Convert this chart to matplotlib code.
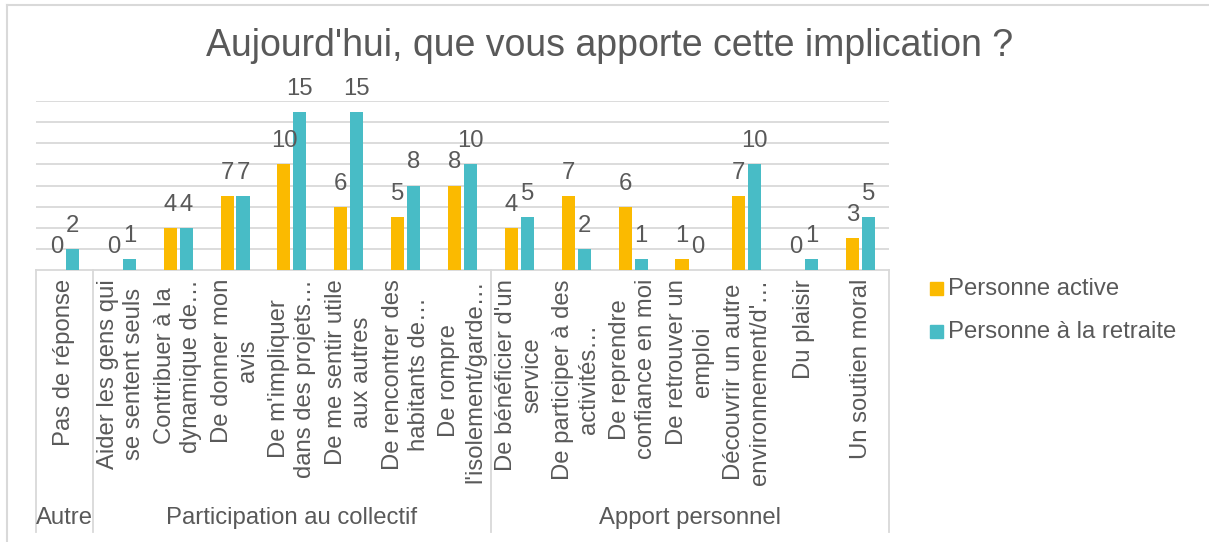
import matplotlib
matplotlib.use("Agg")
import matplotlib.pyplot as plt
from matplotlib.lines import Line2D
from matplotlib.patches import Rectangle
import matplotlib.transforms as mtransforms

plt.rcParams['font.family'] = ['Liberation Sans', 'DejaVu Sans']

title = "Aujourd'hui, que vous apporte cette implication ?"
categories = [
    "Pas de réponse",
    "Aider les gens qui\nse sentent seuls",
    "Contribuer à la\ndynamique de…",
    "De donner mon\navis",
    "De m'impliquer\ndans des projets…",
    "De me sentir utile\naux autres",
    "De rencontrer des\nhabitants de…",
    "De rompre\nl'isolement/garde…",
    "De bénéficier d'un\nservice",
    "De participer à des\nactivités…",
    "De reprendre\nconfiance en moi",
    "De retrouver un\nemploi",
    "Découvrir un autre\nenvironnement/d'…",
    "Du plaisir",
    "Un soutien moral",
]
groups = ["Autre", "Participation au collectif", "Apport personnel"]
group_sizes = [1, 7, 7]
series_names = ["Personne active", "Personne à la retraite"]
active = [0, 0, 4, 7, 10, 6, 5, 8, 4, 7, 6, 1, 7, 0, 3]
retired = [2, 1, 4, 7, 15, 15, 8, 10, 5, 2, 1, 0, 10, 1, 5]

ORANGE = '#FBBA00'
TEAL = '#48BCC6'
TXT = '#595959'
GRID = '#D9D9D9'
FS = 17.2

W, H = 1209, 542
fig = plt.figure(figsize=(W / 100, H / 100), dpi=100)

def fx(px):
    return px / W

def fy(py):
    return 1 - py / H

ax_left, ax_right, ax_top, ax_bottom = 36, 889, 101, 270
ax = fig.add_axes([fx(ax_left), fy(ax_bottom), fx(ax_right - ax_left), (ax_bottom - ax_top) / H])

n = len(categories)
x = list(range(n))
bw = 0.23
off = 0.14
b1 = ax.bar([i - off for i in x], active, width=bw, color=ORANGE, zorder=3)
b2 = ax.bar([i + off for i in x], retired, width=bw, color=TEAL, zorder=3)

for bars, vals in ((b1, active), (b2, retired)):
    for rect, v in zip(bars, vals):
        ax.annotate(str(v), (rect.get_x() + rect.get_width() / 2, v),
                    xytext=(0, 23), textcoords='offset pixels',
                    ha='center', va='center', fontsize=FS, color=TXT,
                    annotation_clip=False)

ax.set_xlim(-0.5, n - 0.5)
ax.set_ylim(0, 16)
ax.set_yticks(range(2, 17, 2))
ax.yaxis.grid(True, color=GRID, linewidth=1.3, zorder=0)
ax.set_axisbelow(True)
for s in ('left', 'right', 'top'):
    ax.spines[s].set_visible(False)
ax.spines['bottom'].set_color(GRID)
ax.spines['bottom'].set_linewidth(1.3)
ax.tick_params(left=False, bottom=False, labelleft=False, labelbottom=False)

axh = ax_bottom - ax_top
trans = mtransforms.blended_transform_factory(ax.transData, ax.transAxes)

# category labels
for i, lab in enumerate(categories):
    ax.text(i, -9 / axh, lab, transform=trans, rotation=90, ha='center', va='top',
            multialignment='center', fontsize=FS, color=TXT, linespacing=1.24)

# group separators and labels
bounds = [-0.5]
for s in group_sizes:
    bounds.append(bounds[-1] + s)
for b in bounds:
    ax.add_line(Line2D([b, b], [0, -(532 - ax_bottom) / axh], transform=trans,
                       color=GRID, linewidth=1.3, clip_on=False))
for g, lo, hi in zip(groups, bounds[:-1], bounds[1:]):
    ax.text((lo + hi) / 2, -(518 - ax_bottom) / axh, g, transform=trans,
            ha='center', va='center', fontsize=FS, color=TXT)

# title
fig.text(fx(610), fy(46), title, ha='center', va='center', fontsize=27, color=TXT)

# legend
for k, (name, col) in enumerate(zip(series_names, [ORANGE, TEAL])):
    yc = 289 + k * 43
    fig.patches.append(Rectangle((fx(930), fy(yc + 6)), fx(13), 13 / H,
                                 transform=fig.transFigure, color=col))
    fig.text(fx(948), fy(yc), name, ha='left', va='center', fontsize=FS, color=TXT)

# chart border (left and top edges visible)
fig.add_artist(Line2D([fx(7), fx(7)], [fy(5), fy(545)], transform=fig.transFigure,
                      color=GRID, linewidth=1.5))
fig.add_artist(Line2D([fx(7), fx(1212)], [fy(5), fy(5)], transform=fig.transFigure,
                      color=GRID, linewidth=1.5))

fig.savefig("out.png", dpi=100)
